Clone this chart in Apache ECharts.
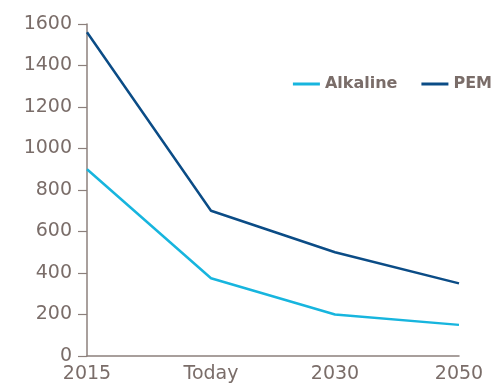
<!DOCTYPE html>
<html><head><meta charset="utf-8">
<script src="https://cdn.jsdelivr.net/npm/echarts@6/dist/echarts.min.js"></script>
<style>html,body{margin:0;padding:0;background:#fff}#c{width:493px;height:387px}</style>
</head><body><div id="c"></div>
<script>
const categories = ['2015', 'Today', '2030', '2050'];
const alkaline = [900, 375, 200, 150];
const pem = [1560, 700, 500, 350];
const yTicks = { min: 0, max: 1600, interval: 200 };

const textColor = '#7a6d69';
const axisColor = '#8c807c';
const chart = echarts.init(document.getElementById('c'), null, { renderer: 'canvas' });
chart.setOption({
  animation: false,
  backgroundColor: '#fff',
  grid: { left: 87, right: 34, top: 24, bottom: 31, containLabel: false },
  legend: {
    right: -4, top: 71,
    itemWidth: 27, itemHeight: 3, itemGap: 24,
    icon: 'rect',
    textStyle: { color: textColor, fontFamily: 'DejaVu Sans', fontWeight: 'bold', fontSize: 16 },
    data: ['Alkaline', 'PEM']
  },
  xAxis: {
    type: 'category', data: categories, boundaryGap: false,
    axisLine: { lineStyle: { color: axisColor, width: 1.5 } },
    axisTick: { show: false },
    axisLabel: { color: textColor, fontFamily: 'DejaVu Sans', fontSize: 19, margin: 9 }
  },
  yAxis: {
    type: 'value', min: yTicks.min, max: yTicks.max, interval: yTicks.interval,
    axisLine: { show: true, lineStyle: { color: axisColor, width: 1.5 } },
    axisTick: { show: true, inside: false, length: 9, lineStyle: { color: axisColor, width: 1.2 } },
    splitLine: { show: false },
    axisLabel: { color: textColor, fontFamily: 'DejaVu Sans', fontSize: 19, margin: 15,
      formatter: v => String(v) }
  },
  series: [
    { name: 'Alkaline', type: 'line', data: alkaline, symbol: 'none',
      lineStyle: { color: '#17b5de', width: 2.5 }, itemStyle: { color: '#17b5de' } },
    { name: 'PEM', type: 'line', data: pem, symbol: 'none',
      lineStyle: { color: '#0b4c86', width: 2.5 }, itemStyle: { color: '#0b4c86' } }
  ]
});
</script></body></html>
